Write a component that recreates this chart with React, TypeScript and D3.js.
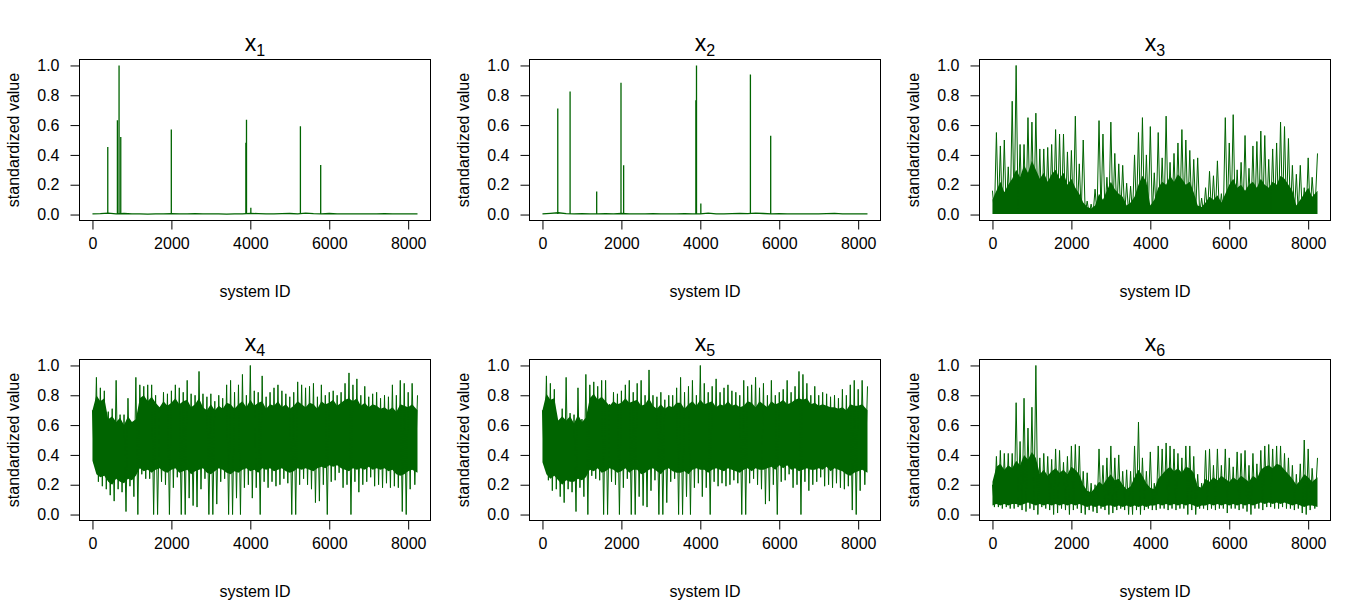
import { useEffect, useRef } from "react";
import * as d3 from "d3";

const GREEN = "#006400";
const FONT = "'Liberation Sans', Arial, Helvetica, sans-serif";
const PANEL_W = 450;
const PANEL_H = 300;
const BOX = { left: 79.5, right: 430.5, top: 59.5, bottom: 220.5 };
const LAST_ID = 8236;

const xTicks = [0, 2000, 4000, 6000, 8000];
const yTicks = [0, 0.2, 0.4, 0.6, 0.8, 1.0];

// coarse grid for the sparse baselines, fine grid (every 100 ids) for the dense series
const baseIds = d3.range(0, 8001, 200).concat([LAST_ID]);
const gridIds = d3.range(0, 8101, 100).concat([LAST_ID]);

// x1, x2: flat baseline with a few isolated spikes
const x1Base = [0.004, 0.006, 0.010, 0.005, 0.007, 0.005, 0.004, 0.003, 0.005, 0.004, 0.006, 0.004, 0.005, 0.006, 0.004, 0.005, 0.004, 0.003, 0.005, 0.004, 0.008, 0.006, 0.005, 0.004, 0.006, 0.007, 0.005, 0.009, 0.006, 0.005, 0.007, 0.004, 0.005, 0.004, 0.005, 0.004, 0.005, 0.006, 0.004, 0.005, 0.004, 0.004];
const x1SpikeIds = [388, 632, 674, 717, 1998, 3887, 3903, 4013, 5269, 5783];
const x1SpikeTops = [0.453, 0.632, 1.0, 0.52, 0.571, 0.482, 0.636, 0.045, 0.592, 0.333];

const x2Base = [0.004, 0.008, 0.012, 0.006, 0.005, 0.006, 0.004, 0.005, 0.006, 0.004, 0.007, 0.005, 0.004, 0.005, 0.006, 0.004, 0.005, 0.004, 0.006, 0.005, 0.004, 0.009, 0.005, 0.004, 0.006, 0.008, 0.006, 0.010, 0.007, 0.005, 0.006, 0.005, 0.004, 0.005, 0.004, 0.005, 0.006, 0.008, 0.005, 0.004, 0.005, 0.004];
const x2SpikeIds = [388, 700, 1374, 1990, 2057, 3887, 3903, 4013, 5269, 5783];
const x2SpikeTops = [0.712, 0.826, 0.154, 0.884, 0.33, 0.766, 1.0, 0.074, 0.94, 0.529];

// x3..x6: solid core (lo/hi) and the extremes reached inside each 100-id bin
const x3Floor = 0.004;
const x3CoreHi = [0.10, 0.16, 0.22, 0.15, 0.20, 0.24, 0.30, 0.25, 0.33, 0.28, 0.36, 0.30, 0.24, 0.28, 0.22, 0.27, 0.30, 0.24, 0.28, 0.20, 0.24, 0.18, 0.14, 0.08, 0.05, 0.04, 0.06, 0.14, 0.10, 0.16, 0.22, 0.17, 0.14, 0.12, 0.06, 0.08, 0.12, 0.20, 0.26, 0.22, 0.06, 0.10, 0.18, 0.22, 0.20, 0.26, 0.22, 0.27, 0.24, 0.20, 0.22, 0.15, 0.06, 0.05, 0.08, 0.12, 0.10, 0.13, 0.08, 0.14, 0.20, 0.24, 0.18, 0.20, 0.16, 0.20, 0.22, 0.18, 0.24, 0.20, 0.18, 0.22, 0.20, 0.26, 0.24, 0.20, 0.16, 0.06, 0.10, 0.14, 0.18, 0.12, 0.16];
const x3Peak = [0.16, 0.55, 0.46, 0.50, 0.32, 0.76, 1.00, 0.47, 0.47, 0.65, 0.62, 0.68, 0.44, 0.44, 0.45, 0.47, 0.57, 0.54, 0.54, 0.42, 0.43, 0.66, 0.34, 0.50, 0.09, 0.07, 0.17, 0.63, 0.54, 0.25, 0.62, 0.41, 0.34, 0.33, 0.21, 0.19, 0.40, 0.55, 0.65, 0.40, 0.59, 0.28, 0.55, 0.38, 0.66, 0.35, 0.41, 0.48, 0.57, 0.50, 0.43, 0.37, 0.38, 0.11, 0.18, 0.29, 0.26, 0.36, 0.14, 0.65, 0.48, 0.67, 0.30, 0.35, 0.53, 0.31, 0.46, 0.49, 0.56, 0.53, 0.37, 0.44, 0.48, 0.62, 0.59, 0.51, 0.33, 0.27, 0.33, 0.18, 0.38, 0.25, 0.41];

const x4CoreLo = [0.36, 0.27, 0.25, 0.26, 0.22, 0.20, 0.24, 0.22, 0.21, 0.24, 0.23, 0.26, 0.31, 0.29, 0.30, 0.28, 0.30, 0.31, 0.29, 0.28, 0.30, 0.31, 0.28, 0.29, 0.30, 0.27, 0.29, 0.30, 0.31, 0.28, 0.27, 0.29, 0.31, 0.30, 0.28, 0.27, 0.29, 0.28, 0.30, 0.31, 0.29, 0.30, 0.28, 0.31, 0.30, 0.31, 0.29, 0.30, 0.31, 0.29, 0.28, 0.29, 0.31, 0.30, 0.31, 0.30, 0.29, 0.31, 0.32, 0.31, 0.33, 0.32, 0.33, 0.31, 0.30, 0.29, 0.31, 0.30, 0.31, 0.30, 0.32, 0.30, 0.31, 0.30, 0.31, 0.29, 0.30, 0.27, 0.26, 0.27, 0.29, 0.30, 0.28];
const x4CoreHi = [0.70, 0.80, 0.76, 0.78, 0.64, 0.66, 0.62, 0.65, 0.60, 0.66, 0.62, 0.64, 0.78, 0.80, 0.76, 0.79, 0.75, 0.72, 0.76, 0.73, 0.75, 0.78, 0.74, 0.76, 0.77, 0.72, 0.74, 0.78, 0.72, 0.70, 0.74, 0.70, 0.73, 0.71, 0.75, 0.74, 0.71, 0.74, 0.76, 0.72, 0.77, 0.73, 0.75, 0.76, 0.71, 0.74, 0.73, 0.76, 0.72, 0.74, 0.71, 0.73, 0.76, 0.74, 0.72, 0.75, 0.74, 0.71, 0.76, 0.74, 0.75, 0.77, 0.73, 0.75, 0.77, 0.78, 0.76, 0.78, 0.73, 0.75, 0.72, 0.74, 0.73, 0.71, 0.72, 0.70, 0.72, 0.69, 0.74, 0.73, 0.72, 0.74, 0.70];
const x4Peak = [0.70, 0.92, 0.85, 0.83, 0.69, 0.71, 0.90, 0.67, 0.67, 0.78, 0.62, 0.92, 0.87, 0.86, 0.87, 0.87, 0.80, 0.71, 0.82, 0.81, 0.83, 0.87, 0.85, 0.82, 0.90, 0.81, 0.80, 0.96, 0.81, 0.79, 0.81, 0.76, 0.80, 0.78, 0.87, 0.90, 0.82, 0.87, 0.94, 0.80, 1.00, 0.83, 0.82, 0.93, 0.79, 0.82, 0.85, 0.87, 0.83, 0.81, 0.79, 0.82, 0.89, 0.87, 0.85, 0.86, 0.88, 0.79, 0.87, 0.80, 0.82, 0.83, 0.80, 0.82, 0.88, 0.95, 0.87, 0.91, 0.80, 0.86, 0.79, 0.81, 0.82, 0.78, 0.80, 0.79, 0.87, 0.80, 0.90, 0.88, 0.82, 0.88, 0.80];
const x4Trough = [0.34, 0.22, 0.19, 0.17, 0.13, 0.09, 0.17, 0.15, 0.02, 0.19, 0.12, 0.00, 0.27, 0.24, 0.24, 0.00, 0.00, 0.22, 0.20, 0.00, 0.18, 0.25, 0.00, 0.00, 0.11, 0.06, 0.05, 0.17, 0.24, 0.00, 0.00, 0.07, 0.22, 0.24, 0.00, 0.00, 0.11, 0.00, 0.18, 0.20, 0.11, 0.18, 0.00, 0.22, 0.18, 0.22, 0.19, 0.20, 0.24, 0.21, 0.00, 0.00, 0.20, 0.24, 0.20, 0.17, 0.08, 0.09, 0.20, 0.00, 0.22, 0.23, 0.28, 0.18, 0.20, 0.00, 0.22, 0.15, 0.20, 0.22, 0.25, 0.19, 0.20, 0.18, 0.21, 0.18, 0.19, 0.18, 0.02, 0.00, 0.17, 0.20, 0.17];

const x5CoreLo = [0.35, 0.27, 0.24, 0.26, 0.23, 0.20, 0.23, 0.22, 0.22, 0.24, 0.23, 0.25, 0.30, 0.29, 0.31, 0.28, 0.29, 0.31, 0.30, 0.28, 0.29, 0.31, 0.28, 0.30, 0.30, 0.27, 0.28, 0.30, 0.31, 0.29, 0.27, 0.30, 0.31, 0.29, 0.28, 0.28, 0.29, 0.27, 0.30, 0.31, 0.30, 0.30, 0.28, 0.30, 0.31, 0.30, 0.29, 0.31, 0.30, 0.29, 0.28, 0.30, 0.31, 0.29, 0.31, 0.30, 0.30, 0.31, 0.32, 0.30, 0.33, 0.31, 0.33, 0.30, 0.31, 0.29, 0.30, 0.31, 0.30, 0.30, 0.31, 0.30, 0.32, 0.29, 0.31, 0.30, 0.29, 0.27, 0.26, 0.28, 0.29, 0.30, 0.28];
const x5CoreHi = [0.70, 0.81, 0.77, 0.78, 0.63, 0.66, 0.63, 0.66, 0.61, 0.67, 0.62, 0.65, 0.78, 0.81, 0.77, 0.79, 0.76, 0.73, 0.76, 0.74, 0.75, 0.78, 0.75, 0.76, 0.77, 0.73, 0.74, 0.78, 0.73, 0.71, 0.74, 0.71, 0.73, 0.72, 0.75, 0.75, 0.71, 0.74, 0.76, 0.73, 0.77, 0.74, 0.75, 0.76, 0.72, 0.74, 0.73, 0.76, 0.73, 0.74, 0.72, 0.73, 0.76, 0.75, 0.72, 0.76, 0.74, 0.72, 0.76, 0.74, 0.75, 0.77, 0.74, 0.75, 0.77, 0.78, 0.77, 0.78, 0.74, 0.75, 0.73, 0.74, 0.73, 0.72, 0.72, 0.71, 0.72, 0.70, 0.74, 0.73, 0.73, 0.74, 0.70];
const x5Peak = [0.70, 0.93, 0.88, 0.84, 0.61, 0.71, 0.92, 0.68, 0.67, 0.85, 0.64, 0.94, 0.87, 0.89, 0.86, 0.90, 0.90, 0.74, 0.82, 0.81, 0.83, 0.87, 0.90, 0.82, 0.88, 0.90, 0.80, 0.97, 0.80, 0.79, 0.82, 0.77, 0.80, 0.80, 0.85, 0.92, 0.82, 0.86, 0.90, 0.80, 1.00, 0.88, 0.82, 0.86, 0.91, 0.82, 0.85, 0.87, 0.83, 0.82, 0.80, 0.90, 0.86, 0.87, 0.92, 0.85, 0.88, 0.80, 0.90, 0.80, 0.82, 0.84, 0.90, 0.82, 0.86, 0.96, 0.94, 0.88, 0.80, 0.86, 0.80, 0.82, 0.81, 0.79, 0.80, 0.78, 0.84, 0.80, 0.87, 0.90, 0.84, 0.90, 0.86];
const x5Trough = [0.34, 0.23, 0.16, 0.17, 0.12, 0.08, 0.17, 0.15, 0.02, 0.18, 0.12, 0.00, 0.26, 0.24, 0.23, 0.00, 0.00, 0.22, 0.20, 0.00, 0.18, 0.24, 0.00, 0.00, 0.12, 0.06, 0.05, 0.16, 0.23, 0.00, 0.00, 0.08, 0.22, 0.24, 0.00, 0.00, 0.12, 0.00, 0.18, 0.21, 0.12, 0.18, 0.00, 0.22, 0.19, 0.21, 0.19, 0.20, 0.23, 0.21, 0.00, 0.00, 0.21, 0.24, 0.20, 0.17, 0.07, 0.09, 0.20, 0.00, 0.22, 0.23, 0.27, 0.18, 0.20, 0.00, 0.22, 0.16, 0.20, 0.22, 0.25, 0.19, 0.20, 0.18, 0.21, 0.18, 0.17, 0.19, 0.03, 0.00, 0.16, 0.20, 0.17];

const x6CoreLo = [0.06, 0.07, 0.06, 0.07, 0.06, 0.07, 0.07, 0.06, 0.07, 0.08, 0.07, 0.06, 0.07, 0.06, 0.07, 0.06, 0.07, 0.06, 0.07, 0.06, 0.07, 0.06, 0.07, 0.06, 0.05, 0.06, 0.05, 0.06, 0.05, 0.06, 0.06, 0.05, 0.06, 0.05, 0.06, 0.05, 0.06, 0.05, 0.06, 0.05, 0.06, 0.06, 0.07, 0.06, 0.07, 0.06, 0.07, 0.06, 0.07, 0.06, 0.07, 0.06, 0.05, 0.06, 0.06, 0.07, 0.06, 0.07, 0.06, 0.07, 0.06, 0.07, 0.06, 0.07, 0.06, 0.07, 0.06, 0.07, 0.08, 0.07, 0.08, 0.07, 0.08, 0.07, 0.08, 0.07, 0.06, 0.07, 0.06, 0.05, 0.06, 0.06, 0.05];
const x6CoreHi = [0.22, 0.32, 0.34, 0.30, 0.33, 0.31, 0.36, 0.33, 0.40, 0.37, 0.42, 0.38, 0.27, 0.30, 0.26, 0.29, 0.31, 0.28, 0.30, 0.27, 0.32, 0.30, 0.27, 0.20, 0.16, 0.15, 0.18, 0.22, 0.20, 0.24, 0.27, 0.23, 0.24, 0.20, 0.17, 0.19, 0.25, 0.30, 0.26, 0.21, 0.18, 0.17, 0.24, 0.27, 0.30, 0.32, 0.29, 0.31, 0.28, 0.32, 0.31, 0.28, 0.19, 0.18, 0.24, 0.22, 0.25, 0.23, 0.26, 0.24, 0.22, 0.25, 0.23, 0.26, 0.24, 0.22, 0.26, 0.24, 0.30, 0.32, 0.33, 0.31, 0.34, 0.33, 0.30, 0.27, 0.24, 0.20, 0.23, 0.27, 0.25, 0.22, 0.25];
const x6Peak = [0.20, 0.39, 0.43, 0.41, 0.41, 0.41, 0.75, 0.49, 0.78, 0.58, 0.72, 1.00, 0.38, 0.41, 0.39, 0.37, 0.44, 0.43, 0.35, 0.39, 0.46, 0.47, 0.46, 0.29, 0.28, 0.21, 0.20, 0.44, 0.33, 0.38, 0.46, 0.38, 0.40, 0.29, 0.30, 0.29, 0.46, 0.62, 0.38, 0.29, 0.42, 0.21, 0.46, 0.44, 0.48, 0.46, 0.44, 0.41, 0.38, 0.46, 0.46, 0.39, 0.27, 0.21, 0.43, 0.44, 0.33, 0.44, 0.33, 0.44, 0.38, 0.32, 0.42, 0.41, 0.43, 0.33, 0.41, 0.34, 0.43, 0.46, 0.47, 0.44, 0.46, 0.46, 0.41, 0.38, 0.33, 0.27, 0.34, 0.50, 0.44, 0.31, 0.38];
const x6Trough = [0.05, 0.05, 0.04, 0.05, 0.04, 0.04, 0.05, 0.03, 0.02, 0.04, 0.03, 0.00, 0.05, 0.04, 0.03, 0.00, 0.01, 0.04, 0.03, 0.00, 0.03, 0.04, 0.01, 0.00, 0.03, 0.02, 0.01, 0.04, 0.03, 0.00, 0.01, 0.03, 0.04, 0.03, 0.00, 0.00, 0.03, 0.00, 0.03, 0.04, 0.03, 0.03, 0.04, 0.04, 0.03, 0.04, 0.03, 0.04, 0.04, 0.00, 0.03, 0.00, 0.04, 0.04, 0.03, 0.04, 0.03, 0.04, 0.04, 0.01, 0.04, 0.04, 0.03, 0.04, 0.02, 0.00, 0.04, 0.04, 0.03, 0.05, 0.05, 0.04, 0.04, 0.05, 0.04, 0.04, 0.03, 0.04, 0.01, 0.00, 0.03, 0.04, 0.04];

type Sparse = { kind: "sparse"; sub: string; base: number[]; spikeIds: number[]; spikeTops: number[] };
type Dense = { kind: "dense"; sub: string; coreLo: number[] | number; coreHi: number[]; peak: number[]; trough: number[] | number };

const panels: (Sparse | Dense)[] = [
  { kind: "sparse", sub: "1", base: x1Base, spikeIds: x1SpikeIds, spikeTops: x1SpikeTops },
  { kind: "sparse", sub: "2", base: x2Base, spikeIds: x2SpikeIds, spikeTops: x2SpikeTops },
  { kind: "dense", sub: "3", coreLo: x3Floor, coreHi: x3CoreHi, peak: x3Peak, trough: x3Floor },
  { kind: "dense", sub: "4", coreLo: x4CoreLo, coreHi: x4CoreHi, peak: x4Peak, trough: x4Trough },
  { kind: "dense", sub: "5", coreLo: x5CoreLo, coreHi: x5CoreHi, peak: x5Peak, trough: x5Trough },
  { kind: "dense", sub: "6", coreLo: x6CoreLo, coreHi: x6CoreHi, peak: x6Peak, trough: x6Trough },
];

const at = (v: number[] | number, i: number) => (typeof v === "number" ? v : v[i]);

export default function App() {
  const svgRef = useRef<SVGSVGElement>(null);

  useEffect(() => {
    if (!svgRef.current) return;
    document.body.style.margin = "0";

    const svg = d3.select(svgRef.current);
    svg.selectAll("*").remove();

    const pad = 0.04 * (LAST_ID - 1);
    const x = d3.scaleLinear().domain([1 - pad, LAST_ID + pad]).range([BOX.left, BOX.right]);
    const y = d3.scaleLinear().domain([-0.04, 1.04]).range([BOX.bottom, BOX.top]);
    const cx = (BOX.left + BOX.right) / 2;

    panels.forEach((p, k) => {
      const col = k % 3;
      const row = Math.floor(k / 3);
      const g = svg
        .append("g")
        .attr("transform", `translate(${col * PANEL_W},${row * PANEL_H})`);

      if (p.kind === "sparse") {
        const line = d3
          .line<number>()
          .x((_, i) => x(baseIds[i]))
          .y((d) => y(d));
        g.append("path")
          .datum(p.base)
          .attr("d", line)
          .attr("fill", "none")
          .attr("stroke", GREEN)
          .attr("stroke-width", 1.3);

        const spikes = p.spikeIds
          .map((id, i) => `M${x(id)},${y(0.004)}V${y(p.spikeTops[i])}`)
          .join("");
        g.append("path")
          .attr("d", spikes)
          .attr("stroke", GREEN)
          .attr("stroke-width", 1.3);
      } else {
        // solid core of the series
        const area = d3
          .area<number>()
          .x((_, i) => x(gridIds[i]))
          .y0((_, i) => y(at(p.coreLo, i)))
          .y1((d) => y(d));
        g.append("path").datum(p.coreHi).attr("d", area).attr("fill", GREEN);

        // polyline swinging between each bin's peak and the following trough
        const pts: [number, number][] = [];
        gridIds.forEach((id, i) => {
          pts.push([id, p.peak[i]]);
          if (i < gridIds.length - 1) pts.push([(id + gridIds[i + 1]) / 2, at(p.trough, i)]);
        });
        const zig = d3
          .line<[number, number]>()
          .x((d) => x(d[0]))
          .y((d) => y(d[1]));
        g.append("path")
          .datum(pts)
          .attr("d", zig)
          .attr("fill", "none")
          .attr("stroke", GREEN)
          .attr("stroke-width", 1)
          .attr("stroke-linejoin", "miter");
      }

      // box
      g.append("rect")
        .attr("x", BOX.left)
        .attr("y", BOX.top)
        .attr("width", BOX.right - BOX.left)
        .attr("height", BOX.bottom - BOX.top)
        .attr("fill", "none")
        .attr("stroke", "#000")
        .attr("stroke-width", 1);

      const xAxis = g
        .append("g")
        .attr("transform", `translate(0,${BOX.bottom})`)
        .call(d3.axisBottom(x).tickValues(xTicks).tickSize(9).tickSizeOuter(0).tickPadding(8).tickFormat(d3.format("d")));
      const yAxis = g
        .append("g")
        .attr("transform", `translate(${BOX.left},0)`)
        .call(d3.axisLeft(y).tickValues(yTicks).tickSize(9).tickSizeOuter(0).tickPadding(11).tickFormat(d3.format(".1f")));

      [xAxis, yAxis].forEach((a) => {
        a.select(".domain").attr("stroke", "#000");
        a.selectAll(".tick line").attr("stroke", "#000");
        a.selectAll("text")
          .attr("fill", "#000")
          .style("font-family", FONT)
          .style("font-size", "16px");
      });
      xAxis.select(".domain").attr("d", `M${x(0)},0H${x(8000)}`);
      yAxis.select(".domain").attr("d", `M0,${y(0)}V${y(1)}`);

      g.append("text")
        .attr("x", cx)
        .attr("y", 297)
        .attr("text-anchor", "middle")
        .style("font-family", FONT)
        .style("font-size", "16px")
        .text("system ID");

      g.append("text")
        .attr("transform", `translate(19,${(BOX.top + BOX.bottom) / 2}) rotate(-90)`)
        .attr("text-anchor", "middle")
        .style("font-family", FONT)
        .style("font-size", "16px")
        .text("standardized value");

      const title = g
        .append("text")
        .attr("x", cx)
        .attr("y", 50.5)
        .attr("text-anchor", "middle")
        .style("font-family", FONT)
        .style("font-size", "23px");
      title.append("tspan").text("x");
      title.append("tspan").attr("dy", 5).style("font-size", "16px").text(p.sub);
    });
  }, []);

  return <svg ref={svgRef} width={1350} height={600} style={{ display: "block", background: "#fff" }} />;
}
